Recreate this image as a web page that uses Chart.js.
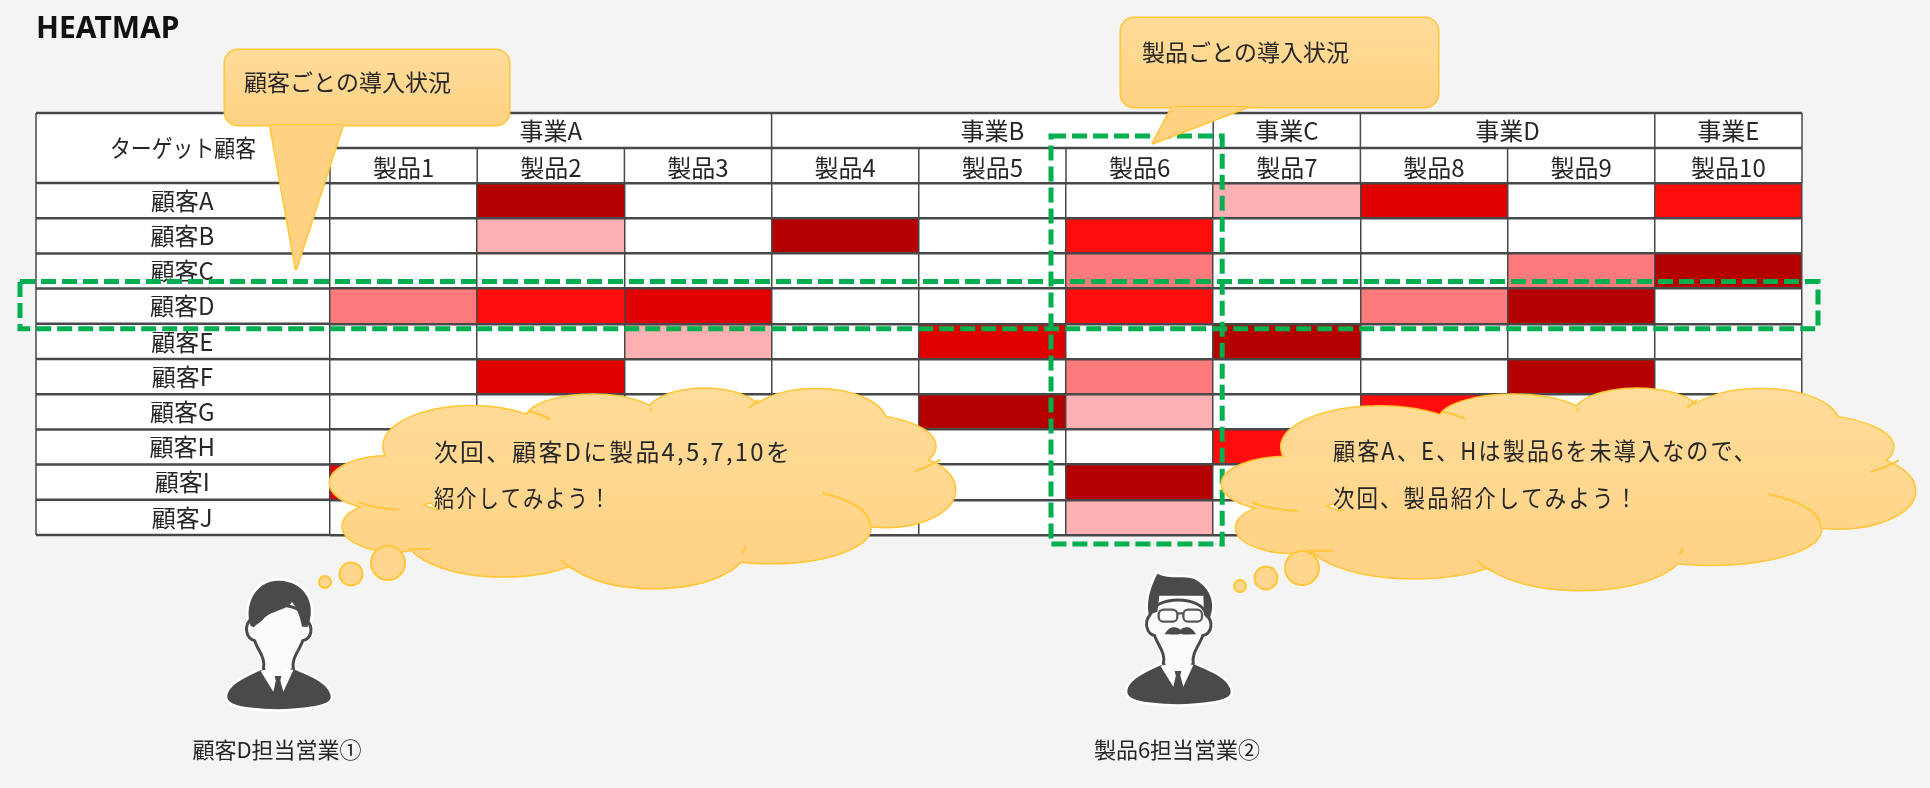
<!DOCTYPE html>
<html lang="ja">
<head>
<meta charset="utf-8">
<title>HEATMAP</title>
<script src="https://cdn.jsdelivr.net/npm/chart.js@4/dist/chart.umd.min.js"></script>
<style>
  html, body { margin: 0; padding: 0; background: #f4f4f4; overflow: hidden; }
  canvas { display: block; }
</style>
</head>
<body>
<canvas id="heatmap" width="1930" height="788"></canvas>
<script>
const FONT = '"Noto Sans CJK JP", "Noto Sans", sans-serif';
const INK = '#262626';
const GRID = '#484848';
const GREEN = '#00b050';

const products = ['製品1', '製品2', '製品3', '製品4', '製品5', '製品6', '製品7', '製品8', '製品9', '製品10'];
const customers = ['顧客A', '顧客B', '顧客C', '顧客D', '顧客E', '顧客F', '顧客G', '顧客H', '顧客I', '顧客J'];
const groupNames = ['事業A', '事業B', '事業C', '事業D', '事業E'];
const groupSpans = [3, 3, 1, 2, 1];

// 0 = not adopted, 1..5 = light to dark. Cells hidden by the clouds are left at 0
const levelColors = ['#ffffff', '#ffb0b3', '#ff7a7c', '#ff0d0d', '#e00000', '#b40000'];
const customerA = [0, 5, 0, 0, 0, 0, 1, 4, 0, 3];
const customerB = [0, 1, 0, 5, 0, 3, 0, 0, 0, 0];
const customerC = [0, 0, 0, 0, 0, 2, 0, 0, 2, 5];
const customerD = [2, 3, 4, 0, 0, 3, 0, 2, 5, 0];
const customerE = [0, 0, 1, 0, 4, 0, 5, 0, 0, 0];
const customerF = [0, 4, 0, 0, 0, 2, 0, 0, 5, 0];
const customerG = [0, 0, 0, 0, 5, 1, 0, 3, 0, 0];
const customerH = [0, 0, 0, 0, 0, 0, 3, 0, 0, 0];
const customerI = [4, 0, 0, 0, 0, 5, 0, 0, 0, 0];
const customerJ = [0, 0, 0, 0, 0, 1, 0, 0, 0, 0];
const levels = [customerA, customerB, customerC, customerD, customerE, customerF, customerG, customerH, customerI, customerJ];

// lobes of the thought cloud, in a 980x600 box
const cloudLobes = [
  [222, 175, 138, 120], [412, 95, 105, 75], [587, 80, 90, 78], [762, 105, 110, 102],
  [822, 175, 127, 95], [872, 305, 108, 112], [692, 420, 155, 105], [507, 480, 145, 120],
  [272, 450, 150, 115], [102, 415, 82, 75], [92, 285, 92, 80], [490, 280, 350, 200],
];
const cloudCreases = [
  [312, 70, 330, 78, 345, 93], [917, 250, 940, 235, 957, 215], [772, 315, 847, 350, 847, 415],
  [122, 483, 140, 483, 157, 483], [42, 340, 70, 362, 107, 365], [652, 475, 650, 485, 647, 495],
  [362, 515, 370, 532, 382, 545], [502, 60, 503, 65, 504, 70], [657, 60, 664, 50, 672, 35],
];

function drawCallout(ctx, box, tail, text, textX, textY) {
  ctx.save();
  const grad = ctx.createLinearGradient(0, box.y, 0, box.y + box.h);
  grad.addColorStop(0, '#ffdc9a');
  grad.addColorStop(1, '#ffd283');
  ctx.beginPath();
  ctx.roundRect(box.x, box.y, box.w, box.h, 13);
  ctx.moveTo(tail[0], box.y + box.h - 1);
  ctx.lineTo(tail[2], tail[3]);
  ctx.lineTo(tail[1], box.y + box.h - 1);
  ctx.closePath();
  ctx.strokeStyle = '#ffc637';
  ctx.lineWidth = 3;
  ctx.lineJoin = 'round';
  ctx.stroke();
  ctx.fillStyle = grad;
  ctx.fill('nonzero');
  ctx.fillStyle = INK;
  ctx.font = '23px ' + FONT;
  ctx.textBaseline = 'middle';
  ctx.fillText(text, textX, textY, 208);
  ctx.restore();
}

function drawCloud(ctx, x, y, w, h, bubbles) {
  const sx = w / 980, sy = h / 600;
  ctx.save();
  const lobe = (l) => {
    ctx.beginPath();
    ctx.ellipse(x + l[0] * sx, y + l[1] * sy, l[2] * sx, l[3] * sy, 0, 0, Math.PI * 2);
  };
  ctx.strokeStyle = '#ffc637';
  ctx.lineWidth = 3;
  cloudLobes.forEach((l) => { lobe(l); ctx.stroke(); });
  const grad = ctx.createLinearGradient(0, y, 0, y + h);
  grad.addColorStop(0, '#ffdc9a');
  grad.addColorStop(1, '#ffd283');
  ctx.fillStyle = grad;
  cloudLobes.forEach((l) => { lobe(l); ctx.fill(); });
  ctx.lineWidth = 2;
  cloudCreases.forEach((c) => {
    ctx.beginPath();
    ctx.moveTo(x + c[0] * sx, y + c[1] * sy);
    ctx.quadraticCurveTo(x + c[2] * sx, y + c[3] * sy, x + c[4] * sx, y + c[5] * sy);
    ctx.stroke();
  });
  bubbles.forEach((b) => {
    ctx.beginPath();
    ctx.arc(b[0], b[1], b[2], 0, Math.PI * 2);
    ctx.fillStyle = '#ffd68d';
    ctx.fill();
    ctx.stroke();
  });
  ctx.restore();
}

// the figure icons are traced in 3x units from a 120x150 box
function drawPerson(ctx, ox, oy, withGlasses) {
  ctx.save();
  ctx.translate(ox, oy);
  ctx.scale(1 / 3, 1 / 3);
  ctx.lineJoin = 'round';

  const body = new Path2D('M22 378 C26 345 70 325 124 300 L170 335 L222 298 C275 322 325 340 332 378 C335 400 300 412 175 418 C55 414 20 402 22 378 Z');
  const face = new Path2D('M90 150 C72 170 78 205 104 212 C112 240 138 262 130 296 L170 345 L220 296 C214 262 240 240 248 212 C276 205 282 170 258 150 C250 90 100 90 90 150 Z');
  const hair = withGlasses
    ? new Path2D('M86 150 C78 100 95 60 112 26 C150 45 195 30 222 42 C262 62 290 105 270 158 L252 150 L250 92 L118 92 L112 140 Z')
    : new Path2D('M92 168 C70 100 110 30 178 32 C250 34 292 95 264 170 L246 170 C242 145 232 115 216 96 C195 125 150 120 128 150 C118 160 108 162 102 172 Z');

  ctx.strokeStyle = '#ffffff';
  ctx.lineWidth = 16;
  ctx.stroke(body);
  ctx.stroke(hair);
  ctx.stroke(face);

  ctx.fillStyle = '#4a4a4a';
  ctx.fill(body);
  ctx.fillStyle = '#fbfbfb';
  ctx.fill(face);
  ctx.strokeStyle = '#4a4a4a';
  ctx.lineWidth = 9;
  ctx.stroke(face);
  ctx.fillStyle = '#4a4a4a';
  ctx.fill(hair);

  // collar and tie
  ctx.fillStyle = '#ffffff';
  ctx.fill(new Path2D('M122 304 L140 298 L170 322 L160 365 Z'));
  ctx.fill(new Path2D('M220 300 L202 296 L178 322 L190 365 Z'));
  ctx.fillStyle = '#4a4a4a';
  ctx.fill(new Path2D('M164 318 L184 318 L180 335 L186 368 L174 380 L162 368 L168 335 Z'));

  if (withGlasses) {
    ctx.strokeStyle = '#5a5a5a';
    ctx.lineWidth = 7;
    ctx.beginPath();
    ctx.roundRect(116, 134, 56, 36, 14);
    ctx.roundRect(190, 134, 56, 36, 14);
    ctx.moveTo(172, 145);
    ctx.lineTo(190, 145);
    ctx.stroke();
    ctx.fillStyle = '#4a4a4a';
    ctx.fill(new Path2D('M134 208 C150 178 172 186 181 194 C190 186 212 178 228 208 C212 206 195 212 181 206 C167 212 150 206 134 208 Z'));
  }
  ctx.restore();
}

const tablePlugin = {
  id: 'tableFrame',
  beforeDraw(chart) {
    const { ctx, chartArea } = chart;
    const x = chart.scales.x;
    const top = x.top - 35;
    ctx.save();
    ctx.fillStyle = '#ffffff';
    ctx.fillRect(chart.scales.y1.left, top, chartArea.right - chart.scales.y1.left, chartArea.bottom - top);
    ctx.restore();
  },
  afterDraw(chart) {
    const { ctx, chartArea } = chart;
    const x = chart.scales.x;
    const y = chart.scales.y;
    const y1 = chart.scales.y1;
    const rowTop = chartArea.top;
    const midY = x.top;
    const topY = x.top - 35;
    const left = y1.left;
    const right = chartArea.right;

    const line = (x0, y0, x2, y2, width) => {
      ctx.lineWidth = width;
      ctx.beginPath();
      ctx.moveTo(x0, y0);
      ctx.lineTo(x2, y2);
      ctx.stroke();
    };

    ctx.save();
    ctx.strokeStyle = GRID;
    line(left, topY, right, topY, 2.5);
    line(chartArea.left, midY, right, midY, 2.5);
    line(left, topY, left, chartArea.bottom, 1.5);
    customers.forEach((c, i) => line(left, y.getPixelForValue(i), chartArea.left, y.getPixelForValue(i), 2.5));
    line(left, chartArea.bottom, chartArea.left, chartArea.bottom, 2.5);
    line(chartArea.left, topY + 35, chartArea.left, rowTop, 1.5);
    products.forEach((p, i) => line(x.getPixelForValue(i + 0.5), midY, x.getPixelForValue(i + 0.5), rowTop, 1.5));

    ctx.fillStyle = INK;
    ctx.font = '24px ' + FONT;
    ctx.textAlign = 'center';
    ctx.textBaseline = 'middle';
    ctx.fillText('ターゲット顧客', (left + chartArea.left) / 2, (topY + rowTop) / 2, 146);

    let start = 0;
    groupNames.forEach((name, i) => {
      const x0 = x.getPixelForValue(start - 0.5);
      const x2 = x.getPixelForValue(start + groupSpans[i] - 0.5);
      line(x2, topY, x2, midY, 1.5);
      ctx.fillText(name, (x0 + x2) / 2, (topY + midY) / 2);
      start += groupSpans[i];
    });
    ctx.restore();

    // highlight boxes for 顧客D and 製品6
    ctx.save();
    ctx.strokeStyle = GREEN;
    ctx.lineWidth = 5;
    ctx.setLineDash([15, 6]);
    ctx.strokeRect(left - 16, y.getPixelForValue(3) - 7, right - left + 32, y.getPixelForValue(4) - y.getPixelForValue(3) + 12);
    ctx.strokeRect(x.getPixelForValue(4.5) - 15, topY + 23, x.getPixelForValue(5.5) - x.getPixelForValue(4.5) + 24, chartArea.bottom - topY - 14);
    ctx.restore();

    drawCallout(ctx, { x: 225, y: 50, w: 284, h: 75 }, [270, 343, 296, 269], '顧客ごとの導入状況', 244, 82);
    drawCallout(ctx, { x: 1121, y: 18, w: 317, h: 89 }, [1173, 1250, 1153, 143], '製品ごとの導入状況', 1142, 52);

    drawCloud(ctx, 330, 388, 625, 200, [[388, 563, 17], [351, 574, 11.5], [325, 582, 6]]);
    drawCloud(ctx, 1222, 388, 693, 202, [[1302, 568, 17], [1266, 578, 11.5], [1240, 586, 6]]);

    ctx.save();
    ctx.fillStyle = INK;
    ctx.font = '24px ' + FONT;
    ctx.textBaseline = 'middle';
    ctx.letterSpacing = '2.3px';
    ctx.fillText('次回、顧客Dに製品4,5,7,10を', 434, 452, 358);
    ctx.fillText('紹介してみよう！', 434, 498, 178);
    ctx.fillText('顧客A、E、Hは製品6を未導入なので、', 1333, 451, 425);
    ctx.fillText('次回、製品紹介してみよう！', 1333, 498, 306);
    ctx.restore();

    drawPerson(ctx, 220, 570, false);
    drawPerson(ctx, 1120, 565, true);

    ctx.save();
    ctx.fillStyle = INK;
    ctx.font = '22px ' + FONT;
    ctx.textAlign = 'center';
    ctx.textBaseline = 'middle';
    ctx.fillText('顧客D担当営業①', 277, 750, 178);
    ctx.fillText('製品6担当営業②', 1177, 750, 178);
    ctx.restore();
  },
};

new Chart(document.getElementById('heatmap'), {
  type: 'bar',
  data: {
    labels: products,
    // one stacked dataset per customer row, every cell is one unit tall
    datasets: customers.map((name, i) => ({
      label: name,
      data: levels[i].map(() => 1),
      backgroundColor: levels[i].map((l) => levelColors[l]),
      barPercentage: 1,
      categoryPercentage: 1,
      borderWidth: 0,
      xAxisID: 'x',
      yAxisID: 'y',
    })),
  },
  options: {
    responsive: false,
    animation: false,
    layout: { padding: { left: 36, right: 128, top: 0, bottom: 253 } },
    plugins: {
      legend: { display: false },
      tooltip: { enabled: false },
      title: {
        display: true,
        text: 'HEATMAP',
        align: 'start',
        color: '#111111',
        font: { family: '"Noto Sans", sans-serif', size: 30, weight: 'bold' },
        padding: { top: 11, bottom: 101 },
      },
    },
    scales: {
      x: {
        position: 'top',
        stacked: true,
        afterFit(box) { box.height = 35; },
        grid: { color: GRID, lineWidth: 1.5, drawTicks: false, z: 1 },
        border: { display: false },
        ticks: { color: INK, font: { family: FONT, size: 24 }, maxRotation: 0, autoSkip: false, padding: 1 },
      },
      y: { display: false, stacked: true, reverse: true, min: 0, max: 10 },
      y1: {
        type: 'category',
        labels: customers,
        position: 'left',
        offset: true,
        afterFit(box) { box.width = 294; },
        grid: { color: GRID, lineWidth: 2.5, offset: true, drawTicks: false, z: 1 },
        border: { display: false },
        ticks: { color: INK, font: { family: FONT, size: 24 }, crossAlign: 'center', autoSkip: false, padding: 115 },
      },
    },
  },
  plugins: [tablePlugin],
});
</script>
</body>
</html>
